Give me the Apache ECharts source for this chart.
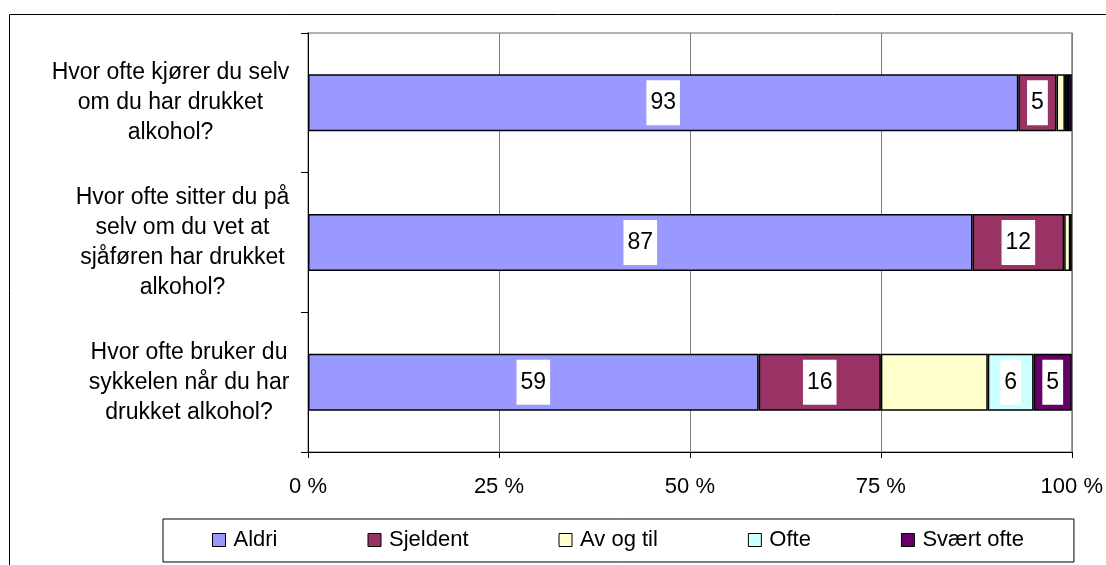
<!DOCTYPE html>
<html>
<head>
<meta charset="utf-8">
<title>Alkohol og trafikk</title>
<script src="https://cdn.jsdelivr.net/npm/echarts@6/dist/echarts.min.js"></script>
<style>
  html, body { margin: 0; padding: 0; background: #fff; }
  #chart { width: 1106px; height: 565px; }
</style>
</head>
<body>
<div id="chart"></div>
<script>
// Questions (top to bottom)
var categories = [
  'Hvor ofte kjører du selv\nom du har drukket\nalkohol?',
  'Hvor ofte sitter du på\nselv om du vet at\nsjåføren har drukket\nalkohol?',
  'Hvor ofte bruker du\nsykkelen når du har\ndrukket alkohol?'
];

// Answer shares in percent, one value per question
var aldri     = [93, 87, 59];
var sjeldent  = [5, 12, 16];
var avOgTil   = [1.1, 0.8, 14];
var ofte      = [0.4, 0, 6];
var svaertOfte = [0.5, 0.2, 5];

// Which segments carry a value label
var aldriLabels     = [true, true, true];
var sjeldentLabels  = [true, true, true];
var avOgTilLabels   = [false, false, false];
var ofteLabels      = [false, false, true];
var svaertOfteLabels = [false, false, true];

var xTicks = [0, 25, 50, 75, 100];

var FONT = '"Liberation Sans", Arial, sans-serif';
var CAT_SIZE = 23;

// width of the widest line of each question, for centred multi-line labels
var ctx = document.createElement('canvas').getContext('2d');
ctx.font = CAT_SIZE + 'px ' + FONT;
var rich = {};
categories.forEach(function (c, i) {
  var w = 0;
  c.split('\n').forEach(function (l) { w = Math.max(w, ctx.measureText(l).width); });
  rich['q' + i] = { width: Math.ceil(w) + 1, align: 'center', fontSize: CAT_SIZE, lineHeight: 30, fontFamily: FONT, color: '#000' };
});

function series(name, values, shown, color) {
  return {
    name: name,
    type: 'bar',
    stack: 'total',
    barWidth: 57,
    itemStyle: { color: color, borderColor: '#000', borderWidth: 1.5 },
    data: values.map(function (v, i) {
      return { value: v, label: { show: shown[i] } };
    }),
    label: {
      position: 'inside',
      formatter: '{c}',
      color: '#000',
      fontSize: 23,
      fontFamily: FONT,
      backgroundColor: '#fff',
      padding: [10, 4, 10, 4],
      lineHeight: 25
    }
  };
}

var chart = echarts.init(document.getElementById('chart'), null, { renderer: 'canvas' });
chart.setOption({
  animation: false,
  backgroundColor: '#fff',
  textStyle: { fontFamily: FONT },
  graphic: [{
    type: 'rect',
    z: -10,
    shape: { x: 9.5, y: 14.5, width: 1300, height: 700 },
    style: { fill: 'none', stroke: '#000', lineWidth: 1 }
  }],
  grid: {
    left: 308, right: 34, top: 33, bottom: 113,
    show: true, borderColor: '#999', borderWidth: 1.5, backgroundColor: 'transparent'
  },
  legend: {
    left: 163,
    top: 519,
    padding: [10, 50, 11, 49],
    borderColor: '#000',
    borderWidth: 1,
    itemWidth: 13,
    itemHeight: 13,
    itemGap: 90,
    icon: 'rect',
    itemStyle: { borderColor: '#000', borderWidth: 1 },
    textStyle: { fontSize: 22, color: '#000', fontFamily: FONT, padding: [0, 0, 0, 3] },
    data: ['Aldri', 'Sjeldent', 'Av og til', 'Ofte', 'Svært ofte']
  },
  xAxis: {
    type: 'value',
    min: xTicks[0],
    max: xTicks[xTicks.length - 1],
    interval: 25,
    axisLine: { show: true, lineStyle: { color: '#000', width: 1 } },
    axisTick: { show: true, length: 6, lineStyle: { color: '#000' } },
    axisLabel: { formatter: '{value} %', fontSize: 22, color: '#000', margin: 24, fontFamily: FONT },
    splitLine: { show: true, lineStyle: { color: '#7f7f7f', width: 1 } }
  },
  yAxis: {
    type: 'category',
    inverse: true,
    data: categories,
    axisLine: { show: true, lineStyle: { color: '#000', width: 1 } },
    axisTick: { show: true, length: 7, lineStyle: { color: '#000' } },
    axisLabel: {
      align: 'right',
      margin: 18,
      formatter: function (v, i) {
        return v.split('\n').map(function (l) { return '{q' + i + '|' + l + '}'; }).join('\n');
      },
      rich: rich
    }
  },
  series: [
    series('Aldri', aldri, aldriLabels, '#9999FF'),
    series('Sjeldent', sjeldent, sjeldentLabels, '#993366'),
    series('Av og til', avOgTil, avOgTilLabels, '#FFFFCC'),
    series('Ofte', ofte, ofteLabels, '#CCFFFF'),
    series('Svært ofte', svaertOfte, svaertOfteLabels, '#660066')
  ]
});
</script>
</body>
</html>
